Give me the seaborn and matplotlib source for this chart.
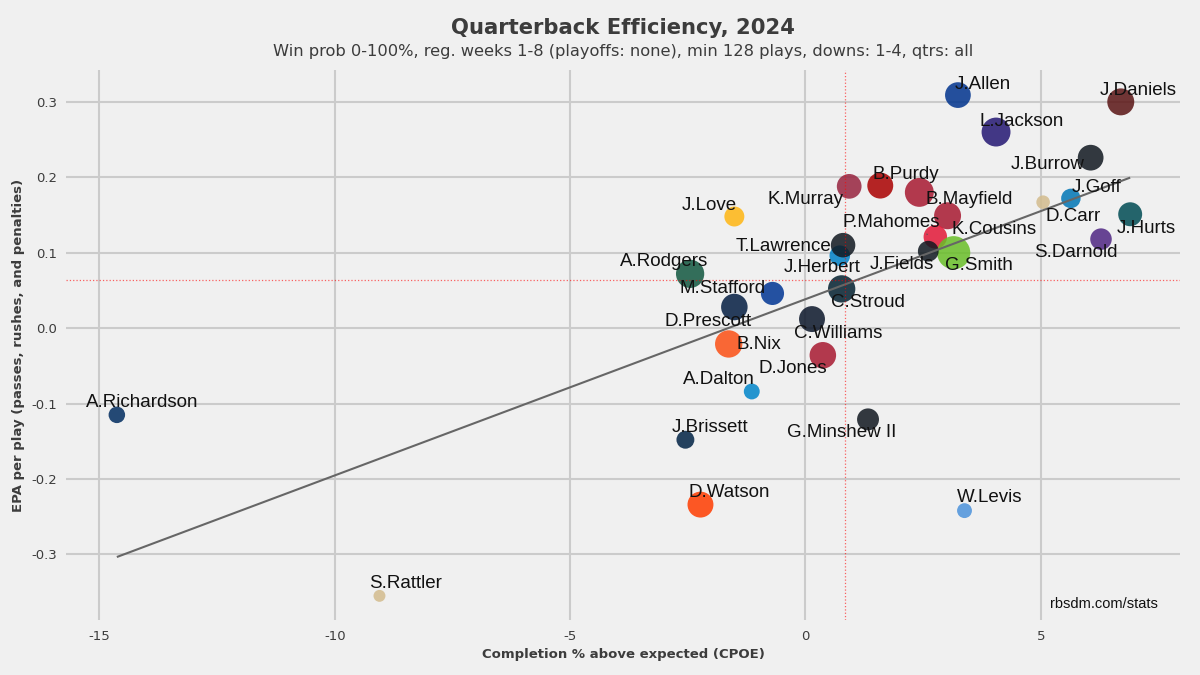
import numpy as np
import pandas as pd
import seaborn as sns
import matplotlib.pyplot as plt

# values
players = ['J.Allen', 'J.Daniels', 'L.Jackson', 'J.Burrow', 'K.Murray', 'B.Purdy',
           'B.Mayfield', 'K.Cousins', 'J.Goff', 'D.Carr', 'J.Hurts', 'S.Darnold',
           'P.Mahomes', 'G.Smith', 'J.Fields', 'J.Herbert', 'T.Lawrence', 'A.Rodgers',
           'M.Stafford', 'C.Stroud', 'J.Love', 'D.Prescott', 'B.Nix', 'C.Williams',
           'D.Jones', 'A.Dalton', 'A.Richardson', 'J.Brissett', 'G.Minshew II',
           'D.Watson', 'W.Levis', 'S.Rattler']
cpoe = [3.24, 6.70, 4.05, 6.06, 0.93, 1.59,
        2.42, 3.02, 5.64, 5.05, 6.90, 6.28,
        2.76, 3.15, 2.61, 0.73, 0.80, -2.45,
        -0.70, 0.77, -1.51, -1.51, -1.63, 0.14,
        0.37, -1.14, -14.63, -2.55, 1.33,
        -2.23, 3.38, -9.05]
epa = [0.309, 0.300, 0.260, 0.226, 0.188, 0.189,
       0.180, 0.149, 0.172, 0.167, 0.151, 0.118,
       0.121, 0.100, 0.102, 0.096, 0.110, 0.072,
       0.046, 0.052, 0.148, 0.028, -0.021, 0.012,
       -0.036, -0.084, -0.115, -0.148, -0.121,
       -0.234, -0.242, -0.355]
plays = [295, 314, 346, 295, 280, 298,
         346, 314, 212, 155, 269, 237,
         263, 423, 227, 225, 277, 335,
         258, 320, 218, 307, 320, 298,
         307, 175, 181, 195, 242,
         298, 166, 143]
team_colors = ['#00338D', '#5A1414', '#241773', '#101820', '#97233F', '#AA0000',
               '#A71930', '#A71930', '#0076B6', '#D3BC8D', '#004C54', '#4F2683',
               '#E31837', '#69BE28', '#101820', '#0080C6', '#101820', '#125740',
               '#003594', '#03202F', '#FFB612', '#041E42', '#FB4F14', '#0B162A',
               '#A71930', '#0085CA', '#002C5F', '#002244', '#101820',
               '#FF3C00', '#4B92DB', '#D3BC8D']
avg_cpoe = 0.84
avg_epa = 0.064

# label offsets in pixels (dx right, dy down) from each point
label_offsets = {
    'J.Allen': (25, -11), 'J.Daniels': (17, -11), 'L.Jackson': (26, -11),
    'J.Burrow': (-43, 7), 'K.Murray': (-44, 13), 'B.Purdy': (26, -11),
    'B.Mayfield': (50, 7), 'K.Cousins': (46, 14), 'J.Goff': (26, -11),
    'D.Carr': (30, 14), 'J.Hurts': (16, 14), 'S.Darnold': (-25, 13),
    'P.Mahomes': (-44, -14), 'G.Smith': (25, 13), 'J.Fields': (-26, 13),
    'J.Herbert': (-18, 12), 'T.Lawrence': (-60, 1), 'A.Rodgers': (-26, -12),
    'M.Stafford': (-50, -5), 'C.Stroud': (26, 14), 'J.Love': (-25, -11),
    'D.Prescott': (-26, 14), 'B.Nix': (30, 1), 'C.Williams': (26, 14),
    'D.Jones': (-30, 13), 'A.Dalton': (-33, -12), 'A.Richardson': (25, -12),
    'J.Brissett': (25, -12), 'G.Minshew II': (-26, 13), 'D.Watson': (29, -12),
    'W.Levis': (25, -13), 'S.Rattler': (26, -12),
}

df = pd.DataFrame({'player': players, 'cpoe': cpoe, 'epa': epa, 'plays': plays})

plt.style.use('fivethirtyeight')
plt.rcParams['axes.unicode_minus'] = False
fig = plt.figure(figsize=(12, 6.75), dpi=100, facecolor='#f0f0f0')
ax = fig.add_axes([0.0554, 0.0815, 0.9276, 0.8145])
ax.set_facecolor('#f0f0f0')

sns.scatterplot(data=df, x='cpoe', y='epa', hue='player', size='plays',
                palette=dict(zip(players, team_colors)), sizes=(74, 570),
                alpha=0.85, linewidth=0, legend=False, ax=ax)
sns.regplot(data=df, x='cpoe', y='epa', scatter=False, ci=None,
            line_kws=dict(color='#666666', lw=1.5), ax=ax)

ax.axvline(avg_cpoe, color='red', ls=':', lw=0.9, alpha=0.6)
ax.axhline(avg_epa, color='red', ls=':', lw=0.9, alpha=0.6)

for name, x, y in zip(players, cpoe, epa):
    dx, dy = label_offsets[name]
    kw = {}
    if name == 'P.Mahomes':
        kw['arrowprops'] = dict(arrowstyle='-', color='#555555', lw=0.8,
                                shrinkA=0, shrinkB=6)
    ax.annotate(name, (x, y), xytext=(dx * 0.72, -dy * 0.72), textcoords='offset points',
                ha='center', va='center', fontsize=13.5, family='Liberation Sans',
                color='#111111', **kw)

ax.set_xlim(-15.7, 7.95)
ax.set_ylim(-0.387, 0.342)
ax.set_xticks([-15, -10, -5, 0, 5])
ax.set_yticks([-0.3, -0.2, -0.1, 0.0, 0.1, 0.2, 0.3])
ax.tick_params(axis='both', labelsize=9.5, colors='#3c3c3c', length=0, pad=7)
ax.grid(True, color='#cbcbcb', lw=1.5)
for s in ax.spines.values():
    s.set_visible(False)

ax.set_xlabel('Completion % above expected (CPOE)', fontsize=9.5, fontweight='bold',
              color='#3c3c3c', labelpad=4)
ax.set_ylabel('EPA per play (passes, rushes, and penalties)', fontsize=9.5,
              fontweight='bold', color='#3c3c3c', labelpad=4)

# title block centred over the axes
cx = 0.0554 + 0.9276 / 2
fig.text(cx, 0.958, 'Quarterback Efficiency, 2024', ha='center', va='center',
         fontsize=15.2, fontweight='bold', color='#3c3c3c')
fig.text(cx, 0.924, 'Win prob 0-100%, reg. weeks 1-8 (playoffs: none), min 128 plays, '
         'downs: 1-4, qtrs: all', ha='center', va='center', fontsize=11.7, color='#3c3c3c')
fig.text(0.965, 0.105, 'rbsdm.com/stats', ha='right', va='center', fontsize=10.5,
         family='Liberation Sans', color='#111111')

fig.savefig('out.png', dpi=100, facecolor='#f0f0f0')
